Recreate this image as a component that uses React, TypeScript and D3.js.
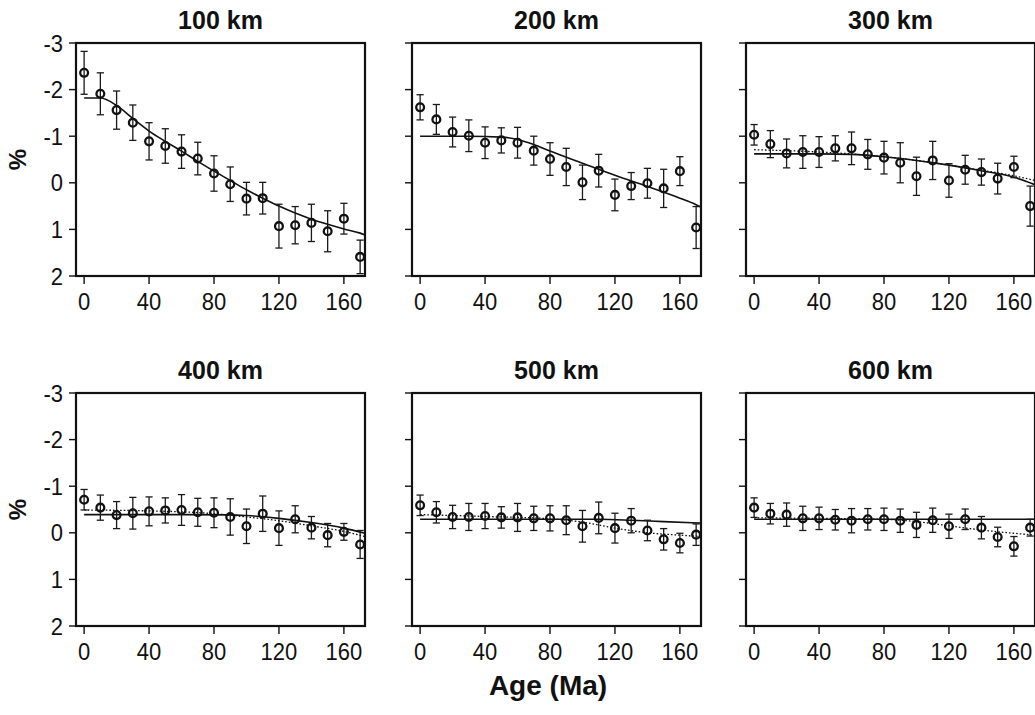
import React from "react";
import * as d3 from "d3";

const ages = [0, 10, 20, 30, 40, 50, 60, 70, 80, 90, 100, 110, 120, 130, 140, 150, 160, 170];
const depthTitles = ["100 km", "200 km", "300 km", "400 km", "500 km", "600 km"];
const xTicks = [0, 40, 80, 120, 160];
const yTicks = [-3, -2, -1, 0, 1, 2];

const mean100 = [-2.36, -1.91, -1.56, -1.29, -0.89, -0.79, -0.67, -0.52, -0.2, 0.03, 0.34, 0.33, 0.93, 0.91, 0.86, 1.04, 0.77, 1.59];
const err100 = [0.46, 0.45, 0.41, 0.38, 0.4, 0.37, 0.36, 0.35, 0.38, 0.37, 0.35, 0.34, 0.47, 0.4, 0.4, 0.44, 0.33, 0.36];
const mean200 = [-1.62, -1.36, -1.09, -1.01, -0.86, -0.91, -0.86, -0.69, -0.51, -0.34, -0.01, -0.26, 0.26, 0.07, 0.01, 0.12, -0.25, 0.96];
const err200 = [0.27, 0.32, 0.32, 0.34, 0.34, 0.27, 0.33, 0.31, 0.35, 0.4, 0.37, 0.35, 0.34, 0.29, 0.32, 0.41, 0.31, 0.45];
const mean300 = [-1.03, -0.83, -0.63, -0.66, -0.66, -0.74, -0.74, -0.61, -0.54, -0.43, -0.14, -0.48, -0.05, -0.28, -0.23, -0.09, -0.34, 0.5];
const err300 = [0.22, 0.29, 0.31, 0.35, 0.33, 0.27, 0.35, 0.32, 0.35, 0.43, 0.41, 0.41, 0.36, 0.31, 0.28, 0.33, 0.23, 0.43];
const mean400 = [-0.71, -0.54, -0.38, -0.42, -0.46, -0.48, -0.49, -0.44, -0.43, -0.34, -0.14, -0.41, -0.1, -0.29, -0.11, 0.05, -0.02, 0.25];
const err400 = [0.22, 0.27, 0.29, 0.34, 0.31, 0.27, 0.33, 0.3, 0.32, 0.39, 0.37, 0.38, 0.37, 0.29, 0.24, 0.25, 0.18, 0.3];
const mean500 = [-0.59, -0.44, -0.34, -0.34, -0.36, -0.33, -0.33, -0.31, -0.31, -0.27, -0.14, -0.32, -0.1, -0.26, -0.05, 0.14, 0.22, 0.04];
const err500 = [0.22, 0.23, 0.25, 0.29, 0.27, 0.23, 0.3, 0.26, 0.27, 0.31, 0.34, 0.34, 0.32, 0.26, 0.22, 0.23, 0.21, 0.23];
const mean600 = [-0.54, -0.41, -0.39, -0.31, -0.31, -0.28, -0.26, -0.29, -0.29, -0.26, -0.17, -0.27, -0.14, -0.29, -0.11, 0.09, 0.29, -0.11];
const err600 = [0.21, 0.22, 0.25, 0.26, 0.24, 0.22, 0.26, 0.23, 0.24, 0.25, 0.27, 0.26, 0.26, 0.22, 0.24, 0.21, 0.21, 0.18];

// model curves (solid)
const solidAges100 = [0, 10, 20, 30, 40, 50, 60, 70, 80, 90, 100, 110, 120, 130, 140, 150, 160, 170, 173];
const solid100 = [-1.82, -1.82, -1.66, -1.38, -1.11, -0.89, -0.68, -0.46, -0.25, -0.05, 0.15, 0.33, 0.5, 0.65, 0.78, 0.89, 0.99, 1.08, 1.12];
const solidAges200 = [0, 30, 50, 60, 70, 80, 100, 120, 140, 160, 170, 173];
const solid200 = [-1.0, -1.0, -0.98, -0.93, -0.82, -0.68, -0.42, -0.16, 0.08, 0.33, 0.47, 0.52];
const solidAges300 = [0, 40, 60, 80, 100, 120, 140, 160, 173];
const solid300 = [-0.62, -0.62, -0.61, -0.56, -0.48, -0.38, -0.26, -0.12, 0.04];
const solidAges400 = [0, 60, 90, 100, 120, 140, 160, 173];
const solid400 = [-0.39, -0.39, -0.385, -0.37, -0.31, -0.22, -0.1, 0.01];
const solidAges500 = [0, 60, 110, 130, 150, 173];
const solid500 = [-0.29, -0.29, -0.29, -0.27, -0.24, -0.21];
const solidAges600 = [0, 173];
const solid600 = [-0.29, -0.29];

// model curves (dotted)
const dotAges300 = [0, 20, 40, 60, 80, 100, 120, 140, 160, 173];
const dot300 = [-0.71, -0.69, -0.66, -0.62, -0.56, -0.48, -0.38, -0.27, -0.15, -0.05];
const dotAges400 = [0, 40, 60, 80, 100, 120, 140, 160, 173];
const dot400 = [-0.49, -0.47, -0.45, -0.41, -0.34, -0.26, -0.15, -0.03, 0.08];
const dotAges500 = [0, 40, 80, 100, 120, 140, 160, 173];
const dot500 = [-0.39, -0.35, -0.3, -0.23, -0.1, 0.0, 0.05, 0.08];
const dotAges600 = [0, 40, 80, 100, 120, 140, 160, 173];
const dot600 = [-0.32, -0.31, -0.29, -0.24, -0.15, -0.06, 0.01, 0.05];

type Panel = {
  title: string;
  mean: number[];
  err: number[];
  solidX: number[];
  solidY: number[];
  dotX?: number[];
  dotY?: number[];
};

const panels: Panel[] = [
  { title: depthTitles[0], mean: mean100, err: err100, solidX: solidAges100, solidY: solid100 },
  { title: depthTitles[1], mean: mean200, err: err200, solidX: solidAges200, solidY: solid200 },
  { title: depthTitles[2], mean: mean300, err: err300, solidX: solidAges300, solidY: solid300, dotX: dotAges300, dotY: dot300 },
  { title: depthTitles[3], mean: mean400, err: err400, solidX: solidAges400, solidY: solid400, dotX: dotAges400, dotY: dot400 },
  { title: depthTitles[4], mean: mean500, err: err500, solidX: solidAges500, solidY: solid500, dotX: dotAges500, dotY: dot500 },
  { title: depthTitles[5], mean: mean600, err: err600, solidX: solidAges600, solidY: solid600, dotX: dotAges600, dotY: dot600 },
];

const colLefts = [76, 412, 746];
const rowTops = [43, 393];
const PW = 289;
const PH = 233;
const FONT = "'Liberation Sans', Arial, Helvetica, sans-serif";
const INK = "#111";

function PanelView({ p, idx }: { p: Panel; idx: number }) {
  const col = idx % 3;
  const row = Math.floor(idx / 3);
  const left = colLefts[col];
  const top = rowTops[row];
  const x = d3.scaleLinear().domain([-5, 173]).range([left, left + PW]);
  const y = d3.scaleLinear().domain([-3, 2]).range([top, top + PH]);
  const mk = (xs: number[], ys: number[]) =>
    d3
      .line<number>()
      .x((_, i) => x(xs[i]))
      .y((v) => y(v))
      .curve(d3.curveMonotoneX)(ys) || "";
  const cap = 3.6;
  return (
    <g>
      <text
        transform={`translate(${left + PW / 2},${top - 14}) scale(1,1.05)`}
        textAnchor="middle"
        fontFamily={FONT}
        fontWeight="bold"
        fontSize={25}
        fill={INK}
      >
        {p.title}
      </text>
      {/* y ticks */}
      {yTicks.map((t) => (
        <g key={"y" + t}>
          <line x1={left - 7} x2={left} y1={y(t)} y2={y(t)} stroke={INK} strokeWidth={1.4} />
          {col === 0 && (
            <text
              transform={`translate(${left - 13},${y(t) + 8.5}) scale(1,1.12)`}
              textAnchor="end"
              fontFamily={FONT}
              fontSize={22}
              fill={INK}
            >
              {String(t)}
            </text>
          )}
        </g>
      ))}
      {/* x ticks */}
      {xTicks.map((t) => (
        <g key={"x" + t}>
          <line x1={x(t)} x2={x(t)} y1={top + PH} y2={top + PH + 8} stroke={INK} strokeWidth={1.4} />
          <text
            transform={`translate(${x(t)},${top + PH + 34}) scale(1,1.12)`}
            textAnchor="middle"
            fontFamily={FONT}
            fontSize={22}
            fill={INK}
          >
            {String(t)}
          </text>
        </g>
      ))}
      {/* model lines */}
      {p.dotX && p.dotY && (
        <path d={mk(p.dotX, p.dotY)} fill="none" stroke={INK} strokeWidth={1.3} strokeDasharray="1.6,2" />
      )}
      <path d={mk(p.solidX, p.solidY)} fill="none" stroke={INK} strokeWidth={1.6} />
      {/* error bars */}
      {ages.map((a, i) => {
        const cx = x(a);
        const y1 = y(p.mean[i] - p.err[i]);
        const y2 = y(p.mean[i] + p.err[i]);
        return (
          <g key={"e" + a} stroke="#1a1a1a" strokeWidth={1.3}>
            <line x1={cx} x2={cx} y1={y1} y2={y2} />
            <line x1={cx - cap} x2={cx + cap} y1={y1} y2={y1} />
            <line x1={cx - cap} x2={cx + cap} y1={y2} y2={y2} />
          </g>
        );
      })}
      {/* points */}
      {ages.map((a, i) => (
        <circle key={"c" + a} cx={x(a)} cy={y(p.mean[i])} r={3.9} fill="none" stroke={INK} strokeWidth={2.3} />
      ))}
      {/* frame */}
      <rect x={left} y={top} width={PW} height={PH} fill="none" stroke={INK} strokeWidth={2.2} />
    </g>
  );
}

export default function App() {
  return (
    <svg
      width={1035}
      height={715}
      style={{ position: "absolute", left: 0, top: 0, background: "#fff" }}
    >
      <rect x={0} y={0} width={1035} height={715} fill="#fff" />
      {panels.map((p, i) => (
        <PanelView key={p.title} p={p} idx={i} />
      ))}
      {rowTops.map((t) => (
        <text
          key={"pct" + t}
          transform={`translate(26,${t + PH / 2}) rotate(-90)`}
          textAnchor="middle"
          fontFamily={FONT}
          fontWeight="bold"
          fontSize={24}
          fill={INK}
        >
          %
        </text>
      ))}
      <text
        x={548}
        y={695}
        textAnchor="middle"
        fontFamily={FONT}
        fontWeight="bold"
        fontSize={28}
        fill={INK}
      >
        Age (Ma)
      </text>
    </svg>
  );
}
